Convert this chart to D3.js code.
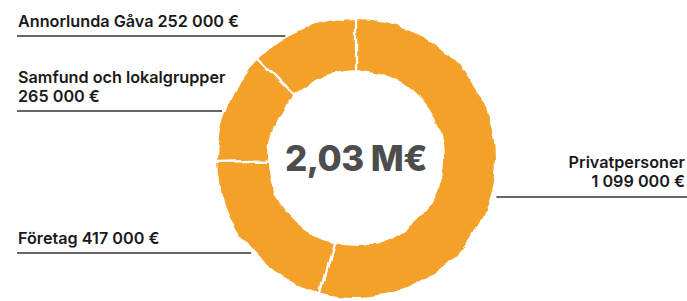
<!DOCTYPE html>
<html>
<head>
<meta charset="utf-8">
<script src="https://cdn.jsdelivr.net/npm/d3@7"></script>
<style>
  body { margin: 0; background: #fff; }
  text { font-family: Inter, "Noto Sans", sans-serif; }
</style>
</head>
<body>
<div id="chart"></div>
<script>
// data
const categories = ["Privatpersoner", "Företag", "Samfund och lokalgrupper", "Annorlunda Gåva"];
const values = [1099000, 417000, 265000, 252000];
const totalLabel = "2,03 M€";

// label placement: text lines, baseline of first line, side
const labelLayout = [
  { lines: ["Privatpersoner", "{v}"], y: 168, side: "right", lineY: 197 },
  { lines: ["Företag {v}"], y: 244, side: "left", lineY: 253 },
  { lines: ["Samfund och lokalgrupper", "{v}"], y: 83, side: "left", lineY: 111 },
  { lines: ["Annorlunda Gåva {v}"], y: 27, side: "left", lineY: 36 }
];

const W = 687, H = 301;
const cx = 356, cy = 158, outerR = 140, innerR = 87;

const se = d3.formatLocale({ decimal: ",", thousands: " ", grouping: [3], currency: ["", " €"] });
const fmt = se.format("$,.0f");

const svg = d3.select("#chart").append("svg")
  .attr("width", W).attr("height", H);

// rough, hand-cut edge
const defs = svg.append("defs");
const f = defs.append("filter").attr("id", "rough")
  .attr("x", "-10%").attr("y", "-10%").attr("width", "120%").attr("height", "120%");
f.append("feTurbulence").attr("type", "fractalNoise")
  .attr("baseFrequency", 0.035).attr("numOctaves", 3).attr("seed", 5).attr("result", "noise");
f.append("feDisplacementMap").attr("in", "SourceGraphic").attr("in2", "noise")
  .attr("scale", 8).attr("xChannelSelector", "R").attr("yChannelSelector", "G");

const data = categories.map((c, i) => ({ name: c, value: values[i], layout: labelLayout[i] }));

const pie = d3.pie().value(d => d.value).sort(null);
const arc = d3.arc().innerRadius(innerR).outerRadius(outerR);

const g = svg.append("g")
  .attr("transform", `translate(${cx},${cy})`)
  .attr("filter", "url(#rough)");

g.selectAll("path")
  .data(pie(data))
  .join("path")
  .attr("d", arc)
  .attr("fill", "#f4a12b")
  .attr("stroke", "#fff")
  .attr("stroke-width", 2.2);

svg.append("text")
  .attr("x", cx).attr("y", cy)
  .attr("text-anchor", "middle")
  .attr("dominant-baseline", "central")
  .attr("font-size", 35)
  .attr("font-weight", 800)
  .attr("letter-spacing", -0.5)
  .attr("fill", "#4d4d4d")
  .text(totalLabel);

// labels and leader lines
const labels = svg.append("g");
data.forEach(d => {
  const L = d.layout;
  const right = L.side === "right";
  const tx = right ? W - 2 : 18;
  const t = labels.append("text")
    .attr("x", tx).attr("y", L.y)
    .attr("text-anchor", right ? "end" : "start")
    .attr("font-size", 16.2)
    .attr("font-weight", 600)
    .attr("fill", "#1a1a1a");
  L.lines.forEach((ln, i) => {
    t.append("tspan").attr("x", tx).attr("dy", i === 0 ? 0 : 18.5)
      .text(ln.replace("{v}", fmt(d.value)));
  });
  const dy = L.lineY - cy;
  const dx = Math.sqrt(outerR * outerR - dy * dy);
  const edge = right ? cx + dx + 6 : cx - dx - 2;
  labels.append("line")
    .attr("x1", right ? edge : 17).attr("x2", right ? W : edge)
    .attr("y1", L.lineY).attr("y2", L.lineY)
    .attr("stroke", "#333").attr("stroke-width", 1.3);
});
</script>
</body>
</html>
